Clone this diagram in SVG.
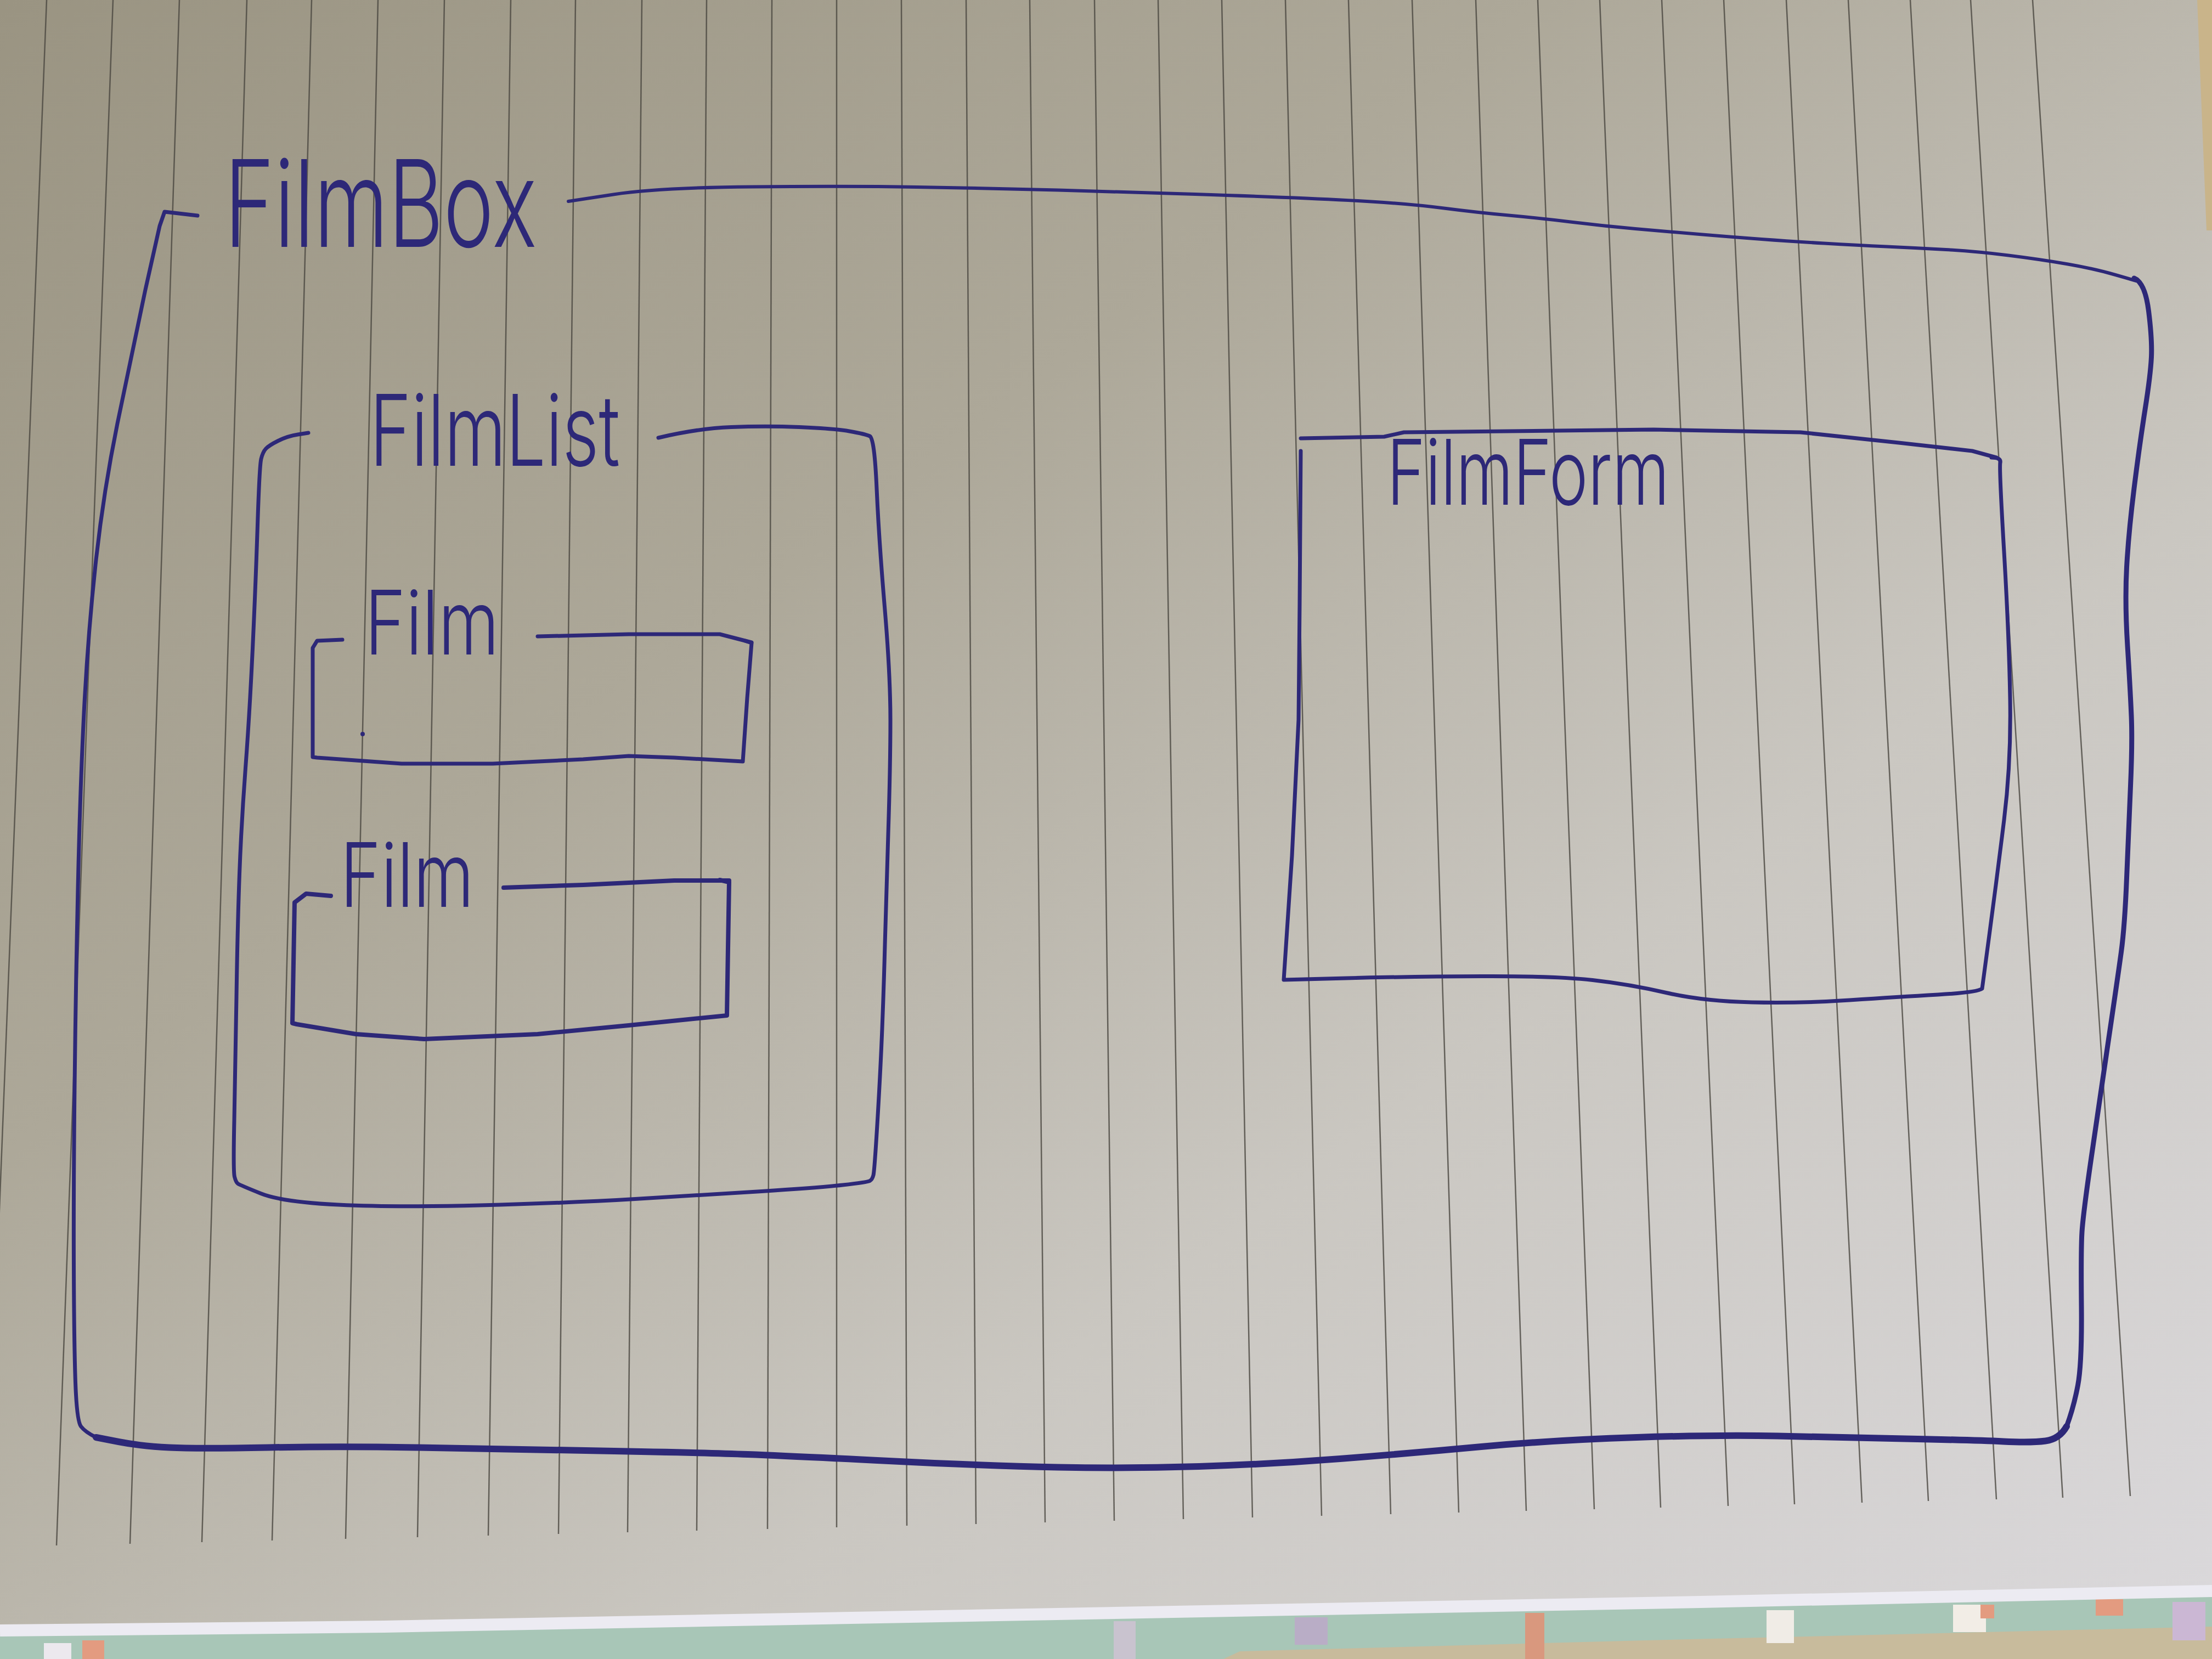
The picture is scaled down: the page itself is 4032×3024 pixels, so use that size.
<svg xmlns="http://www.w3.org/2000/svg" width="4032" height="3024" viewBox="0 0 4032 3024">
<defs>
<linearGradient id="paper" x1="0" y1="0" x2="1" y2="1">
<stop offset="0" stop-color="#9a9482"/>
<stop offset="0.35" stop-color="#ada899"/>
<stop offset="0.65" stop-color="#cac7c1"/>
<stop offset="1" stop-color="#dbd9dc"/>
</linearGradient>
<style>
.ink{fill:none;stroke:#2d2878;stroke-linecap:round;stroke-linejoin:round}
.lbl{font-family:Inter,"Liberation Sans","DejaVu Sans",sans-serif;font-weight:300;fill:#2d2878}
.rule{stroke:#4a4740;stroke-width:2.5;opacity:0.8}
</style>
</defs>
<rect x="0" y="0" width="4032" height="3024" fill="url(#paper)"/>
<polygon points="4005,0 4032,0 4032,420 4022,420" fill="#c9b48a"/>
<g id="rules">
<line class="rule" x1="85" y1="0" x2="-25" y2="2820"/>
<line class="rule" x1="206" y1="0" x2="103" y2="2817"/>
<line class="rule" x1="327" y1="0" x2="237" y2="2814"/>
<line class="rule" x1="450" y1="0" x2="368" y2="2811"/>
<line class="rule" x1="568" y1="0" x2="496" y2="2808"/>
<line class="rule" x1="689" y1="0" x2="630" y2="2805"/>
<line class="rule" x1="810" y1="0" x2="761" y2="2802"/>
<line class="rule" x1="931" y1="0" x2="890" y2="2799"/>
<line class="rule" x1="1049" y1="0" x2="1018" y2="2796"/>
<line class="rule" x1="1170" y1="0" x2="1144" y2="2793"/>
<line class="rule" x1="1288" y1="0" x2="1270" y2="2790"/>
<line class="rule" x1="1407" y1="0" x2="1399" y2="2787"/>
<line class="rule" x1="1525" y1="0" x2="1525" y2="2784"/>
<line class="rule" x1="1643" y1="0" x2="1653" y2="2781"/>
<line class="rule" x1="1761" y1="0" x2="1779" y2="2778"/>
<line class="rule" x1="1877" y1="0" x2="1905" y2="2775"/>
<line class="rule" x1="1995" y1="0" x2="2031" y2="2772"/>
<line class="rule" x1="2111" y1="0" x2="2157" y2="2769"/>
<line class="rule" x1="2227" y1="0" x2="2283" y2="2766"/>
<line class="rule" x1="2343" y1="0" x2="2409" y2="2763"/>
<line class="rule" x1="2458" y1="0" x2="2535" y2="2760"/>
<line class="rule" x1="2574" y1="0" x2="2659" y2="2757"/>
<line class="rule" x1="2690" y1="0" x2="2782" y2="2754"/>
<line class="rule" x1="2803" y1="0" x2="2906" y2="2751"/>
<line class="rule" x1="2916" y1="0" x2="3027" y2="2748"/>
<line class="rule" x1="3029" y1="0" x2="3150" y2="2745"/>
<line class="rule" x1="3142" y1="0" x2="3271" y2="2742"/>
<line class="rule" x1="3256" y1="0" x2="3394" y2="2739"/>
<line class="rule" x1="3369" y1="0" x2="3515" y2="2736"/>
<line class="rule" x1="3482" y1="0" x2="3639" y2="2733"/>
<line class="rule" x1="3592" y1="0" x2="3760" y2="2730"/>
<line class="rule" x1="3705" y1="0" x2="3883" y2="2727"/>
</g>
<g id="table">
<path d="M0,2980 L700,2972 L1500,2955 L2300,2940 L3100,2925 L4032,2905 L4032,3024 L0,3024 Z" fill="#a8c6b7"/>
<path d="M2260,3010 L3000,2990 L4032,2965 L4032,3024 L2230,3024 Z" fill="#c8bb9c"/>
<rect x="2030" y="2955" width="40" height="69" fill="#c9c3cf"/>
<rect x="2360" y="2948" width="60" height="50" fill="#b9adc6"/>
<rect x="2780" y="2940" width="35" height="84" fill="#d9987e"/>
<rect x="3220" y="2935" width="50" height="60" fill="#f0ece6"/>
<rect x="3560" y="2925" width="60" height="50" fill="#f2ede6"/>
<rect x="3610" y="2925" width="25" height="25" fill="#e39b80"/>
<rect x="3820" y="2915" width="50" height="30" fill="#e39b80"/>
<rect x="3960" y="2920" width="60" height="70" fill="#cbb7d4"/>
<rect x="150" y="2990" width="40" height="34" fill="#e39b80"/>
<rect x="80" y="2995" width="50" height="29" fill="#ece8ee"/>
<path d="M0,2972 L700,2965 L1500,2950 L2300,2935 L3100,2920 L4032,2900" fill="none" stroke="#ecebf2" stroke-width="22"/>
</g>
<g id="FilmBox">
<path class="ink" stroke-width="7" d="M360,393 L300,386 L291,412 L265,528 Q240,645 214,772 Q188,900 174,1030 Q160,1160 153,1300 Q146,1440 142,1620 Q138,1800 136,1980 Q134,2160 134.5,2305 Q135,2450 137.5,2520 Q140,2590 147.5,2600 Q155,2610 175,2620"/>
<path class="ink" stroke-width="12" d="M175,2620 L216,2628 Q257,2636 308.5,2638.5 Q360,2641 488.5,2638.5 Q617,2636 758.5,2638.5 Q900,2641 1093,2644.5 Q1286,2648 1363,2651 Q1440,2654 1620,2663 Q1800,2672 1928.5,2674.5 Q2057,2677 2185.5,2673 Q2314,2669 2442.5,2659 Q2571,2649 2700,2637 Q2829,2625 2983,2620 Q3137,2615 3240,2617.5 Q3343,2620 3471.5,2622.5 Q3600,2625 3651.5,2627.5 Q3703,2630 3728.5,2626.5 Q3754,2623 3767,2600"/>
<path class="ink" stroke-width="9" d="M3767,2600 Q3780,2565 3787.5,2525 Q3795,2485 3794,2381 Q3793,2277 3795,2245.5 Q3797,2214 3812,2110 Q3827,2006 3843.5,1894.5 Q3860,1783 3866.5,1735.5 Q3873,1688 3876.5,1600 Q3880,1512 3883.5,1432.5 Q3887,1353 3885,1305 Q3883,1257 3878,1177 Q3873,1097 3876.5,1033.5 Q3880,970 3890,890 Q3900,810 3910,746.5 Q3920,683 3921.5,651 Q3923,619 3916.5,567 Q3910,515 3890,507"/>
<path class="ink" stroke-width="6" d="M3894,512 L3856,501 Q3818,490 3769.5,481.5 Q3721,473 3661,465.5 Q3601,458 3547,455 Q3493,452 3439,449.5 Q3385,447 3325,443.5 Q3265,440 3211,436 Q3157,432 3097.5,427 Q3038,422 2981,417 Q2924,412 2867,405 Q2810,398 2750,392.5 Q2690,387 2636,380 Q2582,373 2522.5,369 Q2463,365 2381.5,361.5 Q2300,358 2178.5,354 Q2057,350 1928.5,346.5 Q1800,343 1671.5,341 Q1543,339 1371.5,340.5 Q1200,342 1118,354.5 L1036,367"/>
<text class="lbl" x="409" y="450" font-size="220" textLength="570" lengthAdjust="spacingAndGlyphs">FilmBox</text>
</g>
<g id="FilmList">
<path class="ink" stroke-width="7" d="M562,789 L543,792 Q524,795 507,803.5 Q490,812 484.5,818 Q479,824 476,836.5 Q473,849 469.5,957 Q466,1065 460.5,1182.5 Q455,1300 447.5,1400 Q440,1500 436.5,1593 Q433,1686 431,1818 Q429,1950 427,2042.5 Q425,2135 427.5,2145 Q430,2155 433.5,2157.5 Q437,2160 475.5,2175.5 Q514,2191 617,2196 Q720,2201 874.5,2197 Q1029,2193 1157.5,2185.5 Q1286,2178 1388.5,2171.5 Q1491,2165 1536,2160 Q1581,2155 1585.5,2152.5 Q1590,2150 1592,2142 Q1594,2134 1599.5,2042 Q1605,1950 1608,1875 Q1611,1800 1613,1722.5 Q1615,1645 1619,1520.5 Q1623,1396 1623,1313 Q1623,1230 1612.5,1106 Q1602,982 1598,890.5 Q1594,799 1585.5,795 Q1577,791 1548,786 Q1519,781 1457,778.5 Q1395,776 1333,778.5 Q1271,781 1200,798"/>
<text class="lbl" x="674" y="849" font-size="180" textLength="456" lengthAdjust="spacingAndGlyphs">FilmList</text>
</g>
<g id="Film1">
<path class="ink" stroke-width="7" d="M624,1166 L578,1168 L570,1181 L570,1380 L578,1381 L732,1392 L898,1392 L1063,1384 L1146,1378 L1229,1381 L1354,1388 L1362,1272 L1370,1172 L1358,1168"/>
<path class="ink" stroke-width="7" d="M1370,1171 L1312,1156 L1146,1156 L980,1160"/>
<circle cx="661" cy="1338" r="4" fill="#2d2878"/>
<text class="lbl" x="665" y="1193" font-size="162" textLength="245" lengthAdjust="spacingAndGlyphs">Film</text>
</g>
<g id="Film2">
<path class="ink" stroke-width="8" d="M603,1633 L558,1629 L537,1645 L533,1865 L541,1867 L649,1885 L773,1894 L980,1885 L1146,1869 L1325,1851 L1327,1728 L1329,1608 L1312,1604"/>
<path class="ink" stroke-width="8" d="M1329,1605 L1229,1605 L1063,1613 L918,1618"/>
<text class="lbl" x="620" y="1653" font-size="162" textLength="244" lengthAdjust="spacingAndGlyphs">Film</text>
</g>
<g id="FilmForm">
<path class="ink" stroke-width="7" d="M2371,799 L2523,796 L2559,788 L3014,783 L3282,788 L3461,807 L3595,822 L3639,834"/>
<path class="ink" stroke-width="7" d="M2371,822 L2369,1100 L2367,1312 L2355,1560 L2340,1786 L2454,1783 Q2568,1780 2702,1779.5 Q2836,1779 2903,1786.5 Q2970,1794 3037,1809.5 Q3104,1825 3193,1827 Q3282,1829 3371.5,1823 Q3461,1817 3532.5,1813 Q3604,1809 3613,1802 L3626.5,1701 Q3640,1600 3653,1494.5 Q3666,1389 3664,1274 Q3662,1159 3653,1006 Q3644,853 3646,843.5 Q3648,834 3630,834"/>
<text class="lbl" x="2528" y="920" font-size="165" textLength="515" lengthAdjust="spacingAndGlyphs">FilmForm</text>
</g>
</svg>
